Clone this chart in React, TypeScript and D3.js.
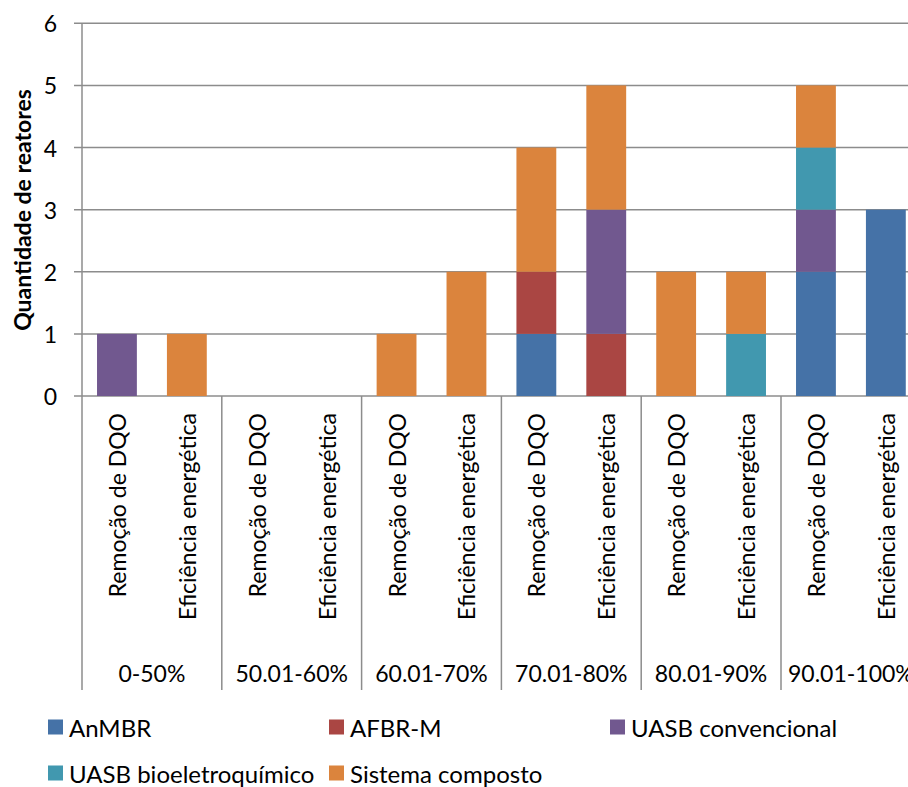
import React from "react";
import * as d3 from "d3";

// Category labels (inner and outer levels)
const criteria = ["Remoção de DQO", "Eficiência energética"];
const ranges = ["0-50%", "50.01-60%", "60.01-70%", "70.01-80%", "80.01-90%", "90.01-100%"];

// Reactor types (stack order, bottom to top)
const seriesNames = ["AnMBR", "AFBR-M", "UASB convencional", "UASB bioeletroquímico", "Sistema composto"];
const seriesColors = ["#4572A7", "#AA4643", "#71588F", "#4198AF", "#DB843D"];

// Number of reactors per bar (12 bars: range × criterion)
const anmbr = [0, 0, 0, 0, 0, 0, 1, 0, 0, 0, 2, 3];
const afbrm = [0, 0, 0, 0, 0, 0, 1, 1, 0, 0, 0, 0];
const uasbConv = [1, 0, 0, 0, 0, 0, 0, 2, 0, 0, 1, 0];
const uasbBio = [0, 0, 0, 0, 0, 0, 0, 0, 0, 1, 1, 0];
const sistema = [0, 1, 0, 0, 1, 2, 2, 2, 2, 1, 1, 0];

const yTicks = [0, 1, 2, 3, 4, 5, 6];

const W = 908;
const H = 787;
const FONT = "Lato, 'Open Sans', sans-serif";

export default function App() {
  const seriesValues = [anmbr, afbrm, uasbConv, uasbBio, sistema];
  const bars = ranges.flatMap((r, gi) => criteria.map((c, ci) => ({ key: gi * 2 + ci, range: r, criterion: c })));
  const rows = bars.map((b) => {
    const row: Record<string, number> = { idx: b.key };
    seriesNames.forEach((s, si) => (row[s] = seriesValues[si][b.key]));
    return row;
  });
  const stacked = d3.stack<Record<string, number>>().keys(seriesNames)(rows);

  const left = 82;
  const step = 69.9;
  const x = d3
    .scaleBand<number>()
    .domain(bars.map((b) => b.key))
    .range([left, left + step * bars.length])
    .paddingInner(0.43)
    .paddingOuter(0.215);
  const y = d3.scaleLinear().domain([0, 6]).range([396, 23.3]);

  const gridColor = "#8c8c8c";
  const axisBottom = 690;

  return (
    <svg
      width={W}
      height={H}
      style={{ position: "absolute", left: 0, top: 0, background: "#fff" }}
      fontFamily={FONT}
    >
      {/* gridlines and y ticks */}
      {yTicks.map((t) => (
        <g key={t}>
          <line x1={74} x2={W} y1={y(t)} y2={y(t)} stroke={gridColor} strokeWidth={1.5} />
          <text x={57} y={y(t)} textAnchor="end" dominantBaseline="central" fontSize={23} fill="#000">
            {t}
          </text>
        </g>
      ))}
      {/* y axis */}
      <line x1={left} x2={left} y1={y(6)} y2={axisBottom} stroke={gridColor} strokeWidth={1.5} />
      {/* group separators */}
      {ranges.map((r, gi) => {
        const xb = left + step * 2 * (gi + 1);
        return <line key={r} x1={xb} x2={xb} y1={y(0)} y2={axisBottom} stroke={gridColor} strokeWidth={1.5} />;
      })}
      {/* stacked bars */}
      {stacked.map((layer, si) => (
        <g key={layer.key} fill={seriesColors[si]}>
          {layer.map((d, i) =>
            d[1] > d[0] ? (
              <rect key={i} x={x(bars[i].key)} width={x.bandwidth()} y={y(d[1])} height={y(d[0]) - y(d[1])} />
            ) : null
          )}
        </g>
      ))}
      {/* inner category labels */}
      {bars.map((b) => {
        const cx = (x(b.key) as number) + x.bandwidth() / 2;
        return (
          <text
            key={b.key}
            transform={`translate(${cx},413) rotate(-90)`}
            textAnchor="end"
            dominantBaseline="central"
            fontSize={23}
            fill="#000"
          >
            {b.criterion}
          </text>
        );
      })}
      {/* outer category labels */}
      {ranges.map((r, gi) => (
        <text
          key={r}
          x={left + step * (2 * gi + 1)}
          y={673}
          textAnchor="middle"
          dominantBaseline="central"
          fontSize={23}
          fill="#000"
        >
          {r}
        </text>
      ))}
      {/* y axis title */}
      <text
        transform="translate(22,210) rotate(-90)"
        textAnchor="middle"
        dominantBaseline="central"
        fontSize={23}
        fontWeight="bold"
        fill="#000"
      >
        Quantidade de reatores
      </text>
      {/* legend */}
      {seriesNames.map((s, i) => {
        const lx = 48 + (i % 3) * 281;
        const ly = 727 + Math.floor(i / 3) * 46;
        return (
          <g key={s}>
            <rect x={lx} y={ly - 7.5} width={15} height={15} fill={seriesColors[i]} />
            <text x={lx + 21} y={ly} dominantBaseline="central" fontSize={24} fill="#000">
              {s}
            </text>
          </g>
        );
      })}
    </svg>
  );
}
